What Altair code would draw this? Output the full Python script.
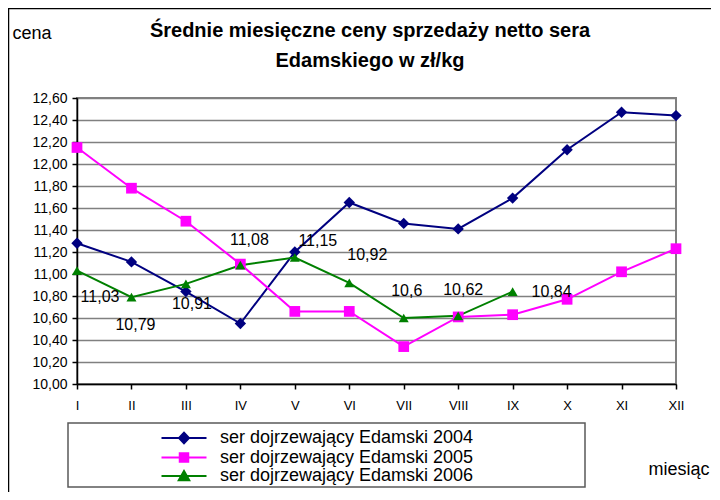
import altair as alt
import pandas as pd

F = "Liberation Sans"

months = ["I", "II", "III", "IV", "V", "VI", "VII", "VIII", "IX", "X", "XI", "XII"]
series_names = [
    "ser dojrzewający Edamski 2004",
    "ser dojrzewający Edamski 2005",
    "ser dojrzewający Edamski 2006",
]
price_2004 = [11.28, 11.11, 10.84, 10.55, 11.20, 11.65, 11.46, 11.41, 11.69, 12.13, 12.47, 12.44]
price_2005 = [12.15, 11.78, 11.48, 11.09, 10.66, 10.66, 10.34, 10.61, 10.63, 10.77, 11.02, 11.23]
price_2006 = [11.03, 10.79, 10.91, 11.08, 11.15, 10.92, 10.60, 10.62, 10.84]
y_ticks = [10.0, 10.2, 10.4, 10.6, 10.8, 11.0, 11.2, 11.4, 11.6, 11.8, 12.0, 12.2, 12.4, 12.6]
title_lines = ["Średnie miesięczne ceny sprzedaży netto sera", "Edamskiego w zł/kg"]

# styling
colors = ["#000080", "#FF00FF", "#008000"]
chart_shapes = ["diamond", "square", "triangle-up"]
chart_sizes = [130, 100, 150]
legend_shapes = [
    "M-4.5,0H4.5M0,-1.05L1,0L0,1.05L-1,0Z",
    "M-4.5,0H4.5M-0.85,-0.85H0.85V0.85H-0.85Z",
    "M-4.5,0H4.5M0,-1L1.05,0.85L-1.05,0.85Z",
]
# pixel offsets of the 2006 data labels (manual placement as in the original)
label_dx = [23, 4, 6, 9, 23, 18, 3, 5, 39]
label_dy = [26, 28, 20, -25, -17, -28, -27, -26, 0]

rows = []
for name, vals in zip(series_names, [price_2004, price_2005, price_2006]):
    for m, v in zip(months, vals):
        rows.append({"month": m, "price": v, "series": name})
df = pd.DataFrame(rows)

label_df = pd.DataFrame({
    "month": months[: len(price_2006)],
    "price": price_2006,
})

x_enc = alt.X(
    "month:N",
    sort=months,
    scale=alt.Scale(type="point", domain=months, padding=0),
    axis=alt.Axis(title="miesiąc", titleX=571, titleY=90, titleAlign="left",
                  titleBaseline="alphabetic", titleFontSize=18, labelAngle=0),
)
y_enc = alt.Y(
    "price:Q",
    scale=alt.Scale(domain=[10, 12.6], nice=False, zero=False),
    axis=alt.Axis(values=y_ticks,
                  labelExpr="replace(format(datum.value, '.2f'), '.', ',')",
                  title="cena", titleAngle=0, titleX=-65, titleY=-60,
                  titleAlign="left", titleBaseline="alphabetic", titleFontSize=18,
                  labelPadding=5, labelFontSize=14),
)

color_scale = alt.Scale(domain=series_names, range=colors)

base = alt.Chart(df)

lines = base.mark_line(strokeWidth=2, opacity=1).encode(
    x=x_enc, y=y_enc,
    color=alt.Color("series:N", scale=color_scale, legend=None),
    detail="series:N",
)

points = base.mark_point(filled=True, opacity=1).encode(
    x=x_enc, y=y_enc,
    color=alt.Color("series:N", scale=color_scale, legend=None),
    shape=alt.Shape("series:N", scale=alt.Scale(domain=series_names, range=chart_shapes), legend=None),
    size=alt.Size("series:N", scale=alt.Scale(domain=series_names, range=chart_sizes), legend=None),
)

label_layers = []
for m, dx, dy in zip(label_df["month"], label_dx, label_dy):
    label_layers.append(
        alt.Chart(label_df).transform_filter(alt.datum.month == m).transform_calculate(
            lab="replace(toString(datum.price), '.', ',')"
        ).mark_text(font=F, fontSize=16, color="black", dx=dx, dy=dy).encode(
            x=x_enc, y=y_enc, text="lab:N",
        )
    )

leg = alt.Legend(title=None)
legend_layer = base.transform_filter("false").mark_point(
    filled=False, opacity=1, size=144, strokeWidth=2
).encode(
    x=x_enc, y=y_enc,
    shape=alt.Shape("series:N", scale=alt.Scale(domain=series_names, range=legend_shapes), legend=leg),
    fill=alt.Fill("series:N", scale=color_scale, legend=leg),
    stroke=alt.Stroke("series:N", scale=color_scale, legend=leg),
)

one = alt.Data(values=[{"a": 1}])
legend_box = alt.Chart(one).mark_rect(fill="white", stroke="#5a5a5a", strokeWidth=1.5).encode(
    x=alt.value(-9), x2=alt.value(508), y=alt.value(325), y2=alt.value(389)
)
border_v = alt.Chart(one).mark_rule(color="black", strokeWidth=1.5).encode(
    x=alt.value(-68.5), y=alt.value(-90), y2=alt.value(420)
)
border_h = alt.Chart(one).mark_rule(color="black", strokeWidth=1.5).encode(
    y=alt.value(-89.5), x=alt.value(-69), x2=alt.value(700)
)
title1 = alt.Chart(one).mark_text(
    font=F, fontSize=20, fontWeight="bold", color="black", align="center", baseline="alphabetic"
).encode(x=alt.value(293), y=alt.value(-61), text=alt.value(title_lines[0]))
title2 = alt.Chart(one).mark_text(
    font=F, fontSize=20, fontWeight="bold", color="black", align="center", baseline="alphabetic"
).encode(x=alt.value(293), y=alt.value(-31), text=alt.value(title_lines[1]))

chart = alt.layer(
    border_v, border_h, title1, title2, legend_box, lines, points, *label_layers, legend_layer
).resolve_scale(
    color="independent", shape="independent", fill="independent", stroke="independent"
).properties(
    width=599,
    height=286,
    autosize=alt.AutoSizeParams(type="none"),
    padding={"left": 69, "top": 90, "right": 35, "bottom": 108},
).configure_view(
    stroke="#808080", strokeWidth=2
).configure_axis(
    domainColor="black", domainWidth=1.5, tickColor="black", tickWidth=1.5, tickSize=5,
    labelFont=F, labelFontSize=13, labelColor="black",
    gridColor="#808080", gridWidth=1.5,
    titleFont=F, titleFontWeight="normal", titleColor="black",
).configure_axisX(
    grid=False, labelPadding=10
).configure_legend(
    orient="none", legendX=98, legendY=331, padding=0,
    labelFont=F, labelFontSize=18, labelColor="black", labelOffset=27, labelLimit=0,
    symbolStrokeWidth=2, rowPadding=0.5,
)

chart.save("out.html", embed_options={"renderer": "svg", "actions": False})
